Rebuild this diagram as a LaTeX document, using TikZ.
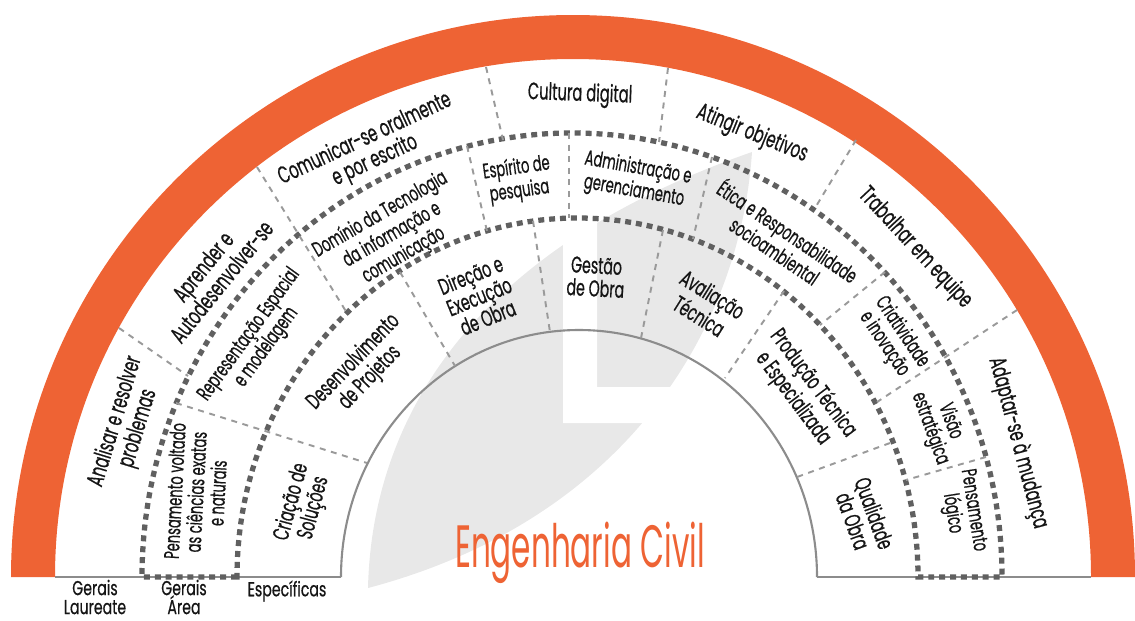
\documentclass[tikz,border=0pt]{standalone}
\usepackage{fontspec}
\setmainfont{Poppins}[FakeStretch=0.62, FakeBold=0.6]
\newfontfamily\titlefont{Poppins}[FakeStretch=0.52]
\newfontfamily\botfont{Poppins}[FakeStretch=0.7, FakeBold=0.5]
\definecolor{orng}{HTML}{EE6334}
\definecolor{leafgray}{HTML}{E8E8E8}
\definecolor{sepgray}{HTML}{9A9A9A}
\definecolor{dotgray}{HTML}{606060}
\definecolor{arcgray}{HTML}{8C8C8C}
\definecolor{txt}{HTML}{151515}
\tikzset{
  lbl/.style={align=center, inner sep=0pt, text=txt},
  outerlbl/.style={lbl, font=\fontsize{13.5}{13.6}\selectfont},
  midlbl/.style={lbl, font=\fontsize{12}{12.2}\selectfont},
  innerlbl/.style={lbl, font=\fontsize{13}{13}\selectfont},
  botlbl/.style={lbl, font=\botfont\fontsize{11.5}{10.8}\selectfont},
  sepline/.style={draw=sepgray, line width=1.1pt, dash pattern=on 3.4pt off 3.2pt},
  dotline/.style={draw=dotgray, line width=3pt, dash pattern=on 3.4pt off 2.8pt},
}
\begin{document}
\begin{tikzpicture}[x=0.02cm,y=-0.02cm]
\useasboundingbox (0,0) rectangle (1135,620);
% background leaf
\fill[leafgray] (368,588) .. controls (372,420) and (470,250) .. (752,152)
  .. controls (740,330) and (625,520) .. (368,588) -- cycle;
\fill[white] (563,100) -- (597,100) -- (597,387) -- (800,387) -- (800,423) -- (563,423) -- cycle;
% orange band
\fill[orng] (11,577) arc[start angle=180, end angle=360, radius=562]
  -- (1091,577) arc[start angle=360, end angle=180, radius=518] -- cycle;
% baselines and inner arc
\coordinate (bl1) at (55,577); \coordinate (bl2) at (341,577);
\coordinate (br1) at (817,577); \coordinate (br2) at (1091,577);
\draw[arcgray, line width=1.2pt] (bl1) -- (bl2);
\draw[arcgray, line width=1.2pt] (br1) -- (br2);
\draw[arcgray, line width=1.2pt] (bl2) arc[start angle=180, end angle=360, x radius=238, y radius=247];
% dotted band
\coordinate (dol) at (142,577); \coordinate (dil) at (237,577);
\coordinate (dor) at (1002,577); \coordinate (dir) at (918,577);
\draw[dotline] (dil) -- (dol) arc[start angle=180, end angle=360, x radius=430, y radius=444]
  -- (dir) arc[start angle=360, end angle=180, x radius=340.5, y radius=359] -- cycle;
% separators
\draw[sepline] (119,328) -- (188,376);
\draw[sepline] (176,403) -- (367,463);
\draw[sepline] (257,167) -- (347,313);
\draw[sepline] (400,272) -- (455,366);
\draw[sepline] (486,67) -- (503,140);
\draw[sepline] (467,146) -- (487,231);
\draw[sepline] (569,133) -- (569,218);
\draw[sepline] (533,221) -- (550,332);
\draw[sepline] (668,68) -- (659,142);
\draw[sepline] (712,157) -- (693,239);
\draw[sepline] (663,230) -- (641,338);
\draw[sepline] (784,291) -- (725,378);
\draw[sepline] (856,140) -- (815,208);
\draw[sepline] (885,272) -- (820,325);
\draw[sepline] (1017,310) -- (877,402);
\draw[sepline] (890,443) -- (797,477);
\draw[sepline] (986,457) -- (906,480);
% outer labels
\node[outerlbl, rotate=73] (a1) at (127,425) {Analisar e resolver\\problemas};
\node[outerlbl, rotate=51] (a2) at (212,274) {Aprender e\\Autodesenvolver-se};
\node[outerlbl, rotate=25] (a3) at (370,150) {Comunicar-se oralmente\\e por escrito};
\node[outerlbl, rotate=-2] (a4) at (580,95) {Cultura digital};
\node[outerlbl, rotate=-22] (a5) at (752,134) {Atingir objetivos};
\node[outerlbl, rotate=-47] (a6) at (915,248) {Trabalhar em equipe};
\node[outerlbl, rotate=-75] (a7) at (1018,443) {Adaptar-se à mudança};
% middle labels
\node[midlbl, rotate=87] (b1) at (196,492) {Pensamento voltado\\as ciências exatas\\e naturais};
\node[midlbl, rotate=54] (b2) at (258,341) {Representação Espacial\\e modelagem};
\node[midlbl, rotate=30] (b3) at (392,235) {Domínio da Tecnologia\\da informação e\\comunicação};
\node[midlbl, rotate=8] (b4) at (518,180) {Espírito de\\pesquisa};
\node[midlbl, rotate=-10] (b5) at (636,180) {Administração e\\gerenciamento};
\node[midlbl, rotate=-34] (b6) at (782,240) {Ética e Responsabilidade\\socioambiental};
\node[midlbl, rotate=-56] (b7) at (893,338) {Criatividade\\e inovação};
\node[midlbl, rotate=-70] (b8) at (940,425) {Visão\\estratégica};
\node[midlbl, rotate=-81] (b9) at (962,512) {Pensamento\\lógico};
% inner labels
\node[innerlbl, rotate=75] (c1) at (303,505) {Criação de\\Soluções};
\node[innerlbl, rotate=46] (c2) at (362,370) {Desenvolvimento\\de Projetos};
\node[innerlbl, rotate=22] (c3) at (479,296) {Direção e\\Execução\\de Obra};
\node[innerlbl, rotate=-3] (c4) at (596,277) {Gestão\\de Obra};
\node[innerlbl, rotate=-32] (c5) at (706,305) {Avaliação\\Técnica};
\node[innerlbl, rotate=-53] (c6) at (803,391) {Produção Técnica\\e Especializada};
\node[innerlbl, rotate=-70] (c7) at (864,517) {Qualidade\\da Obra};
% title
\node[inner sep=0pt, text=orng, font=\titlefont\fontsize{34}{34}\selectfont] (title) at (580,553) {Engenharia Civil};
% bottom labels
\node[botlbl] (g1) at (95,597) {Gerais\\Laureate};
\node[botlbl] (g2) at (184,597) {Gerais\\Área};
\node[botlbl] (g3) at (287,591) {Específicas};
\end{tikzpicture}
\end{document}
